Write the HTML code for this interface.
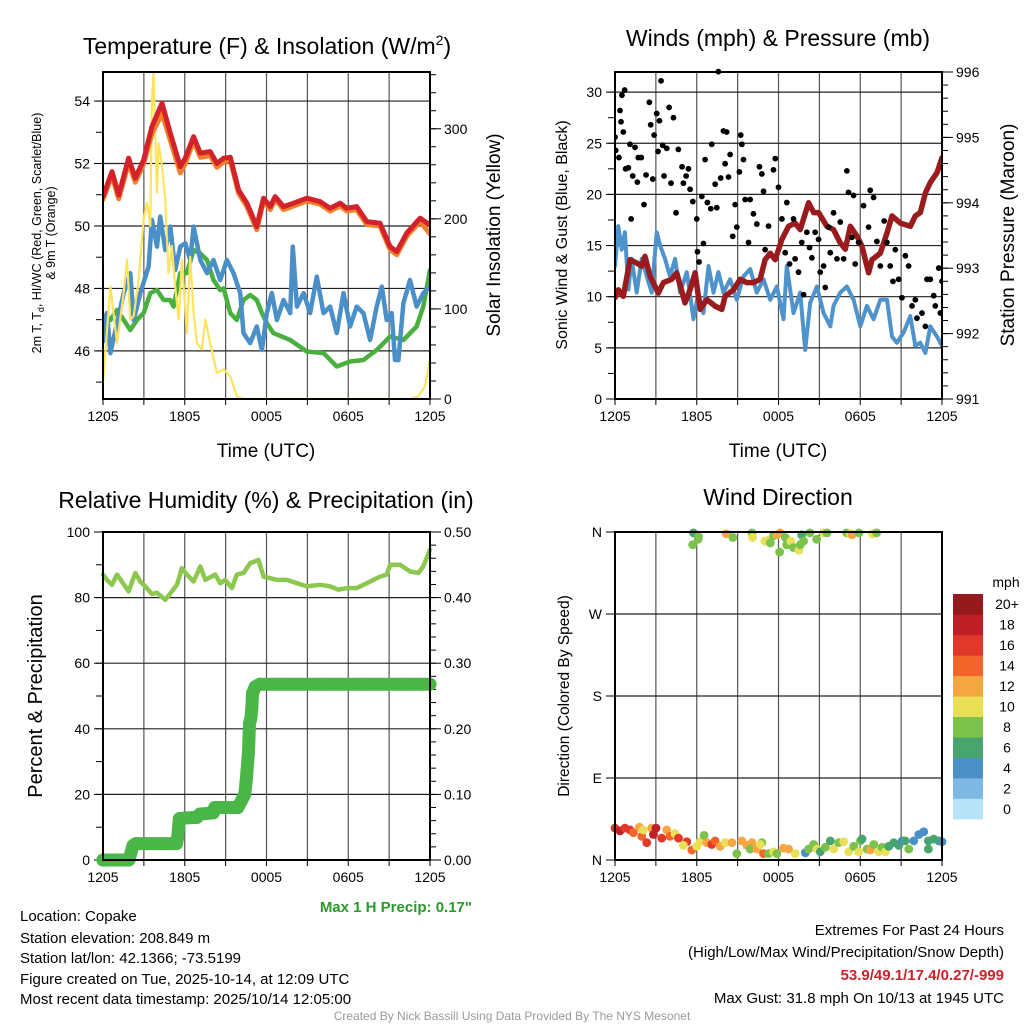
<!DOCTYPE html>
<html><head><meta charset="utf-8">
<style>
html,body{margin:0;padding:0;background:#fff;}
svg{display:block;font-family:"Liberation Sans",Arial,sans-serif;}
</style></head>
<body>
<svg id="chart" width="1024" height="1024" viewBox="0 0 1024 1024" xmlns="http://www.w3.org/2000/svg">
<rect width="1024" height="1024" fill="#fff"/>
<text x="267" y="54" font-size="23" text-anchor="middle">Temperature (F) &amp; Insolation (W/m<tspan font-size="14" dy="-9">2</tspan><tspan dy="9">)</tspan></text>
<text x="778" y="46" font-size="23" text-anchor="middle">Winds (mph) &amp; Pressure (mb)</text>
<text x="266" y="508" font-size="23" text-anchor="middle">Relative Humidity (%) &amp; Precipitation (in)</text>
<text x="778" y="505" font-size="23" text-anchor="middle">Wind Direction</text>
<text x="266" y="457" font-size="19" text-anchor="middle">Time (UTC)</text>
<text x="778" y="457" font-size="19" text-anchor="middle">Time (UTC)</text>
<text transform="translate(41,233) rotate(-90)" font-size="12.5" text-anchor="middle">2m T, T<tspan font-size="9" dy="3">d</tspan><tspan dy="-3">, HI/WC (Red, Green, Scarlet/Blue)</tspan></text>
<text transform="translate(55,233) rotate(-90)" font-size="12.5" text-anchor="middle">&amp; 9m T (Orange)</text>
<text transform="translate(500,235) rotate(-90)" font-size="19" text-anchor="middle">Solar Insolation (Yellow)</text>
<text transform="translate(567,235) rotate(-90)" font-size="16" text-anchor="middle">Sonic Wind &amp; Gust (Blue, Black)</text>
<text transform="translate(1014,235) rotate(-90)" font-size="19" text-anchor="middle">Station Pressure (Maroon)</text>
<text transform="translate(42,696) rotate(-90)" font-size="20" text-anchor="middle">Percent &amp; Precipitation</text>
<text transform="translate(569,696) rotate(-90)" font-size="15.5" text-anchor="middle">Direction (Colored By Speed)</text>
<text x="472" y="912" font-size="15" font-weight="bold" fill="#2a9a2a" text-anchor="end">Max 1 H Precip: 0.17"</text>
<g font-size="15">
<text x="20" y="921">Location: Copake</text>
<text x="20" y="943">Station elevation: 208.849 m</text>
<text x="20" y="963">Station lat/lon: 42.1366; -73.5199</text>
<text x="20" y="984">Figure created on Tue, 2025-10-14, at 12:09 UTC</text>
<text x="20" y="1004">Most recent data timestamp: 2025/10/14 12:05:00</text>
</g>
<g font-size="15" text-anchor="end">
<text x="1004" y="935">Extremes For Past 24 Hours</text>
<text x="1004" y="957">(High/Low/Max Wind/Precipitation/Snow Depth)</text>
<text x="1004" y="980" fill="#d0202a" font-weight="bold">53.9/49.1/17.4/0.27/-999</text>
<text x="1004" y="1003">Max Gust: 31.8 mph On 10/13 at 1945 UTC</text>
</g>
<text x="512" y="1020" font-size="12" fill="#999" text-anchor="middle">Created By Nick Bassill Using Data Provided By The NYS Mesonet</text>
<g id="layer"></g>
</svg>
<script>
const xTickLabels = ['1205','1805','0005','0605','1205'];
const xTickHours = [0,6,12,18,24];
const tempHours = [0,0.66,1.15,1.88,2.37,2.98,3.59,4.33,4.94,5.67,6.04,6.65,7.14,7.87,8.36,8.85,9.34,9.95,10.56,11.29,11.78,12.27,12.64,13.25,13.98,14.96,15.93,16.67,17.4,17.89,18.62,19.36,20.33,21.07,21.56,22.29,23.27,24];
const tempRed = [50.94,51.74,50.99,52.17,51.53,52.11,53.18,53.93,52.97,51.9,52.17,52.86,52.33,52.38,52.0,52.17,52.2,51.15,50.73,49.98,50.89,50.62,50.94,50.62,50.73,50.89,50.78,50.57,50.73,50.57,50.62,50.14,50.09,49.34,49.18,49.77,50.25,50.03];
const tempOrange = [50.85,51.62,50.87,52.02,51.4,51.98,52.95,53.6,52.75,51.7,52.0,52.72,52.2,52.25,51.88,52.05,52.1,51.05,50.62,49.88,50.8,50.52,50.85,50.52,50.64,50.8,50.7,50.48,50.64,50.48,50.52,50.05,50.0,49.24,49.08,49.67,50.15,49.75];
const hiHours = [0,0.29,0.54,1.03,1.52,2.0,2.25,2.74,3.35,3.59,3.96,4.2,4.57,4.94,5.3,5.67,6.04,6.4,6.65,7.14,7.63,8.11,8.6,9.09,9.58,10.07,10.31,10.8,11.29,11.66,12.02,12.39,12.76,13.25,13.74,13.93,14.23,14.72,15.2,15.69,16.18,16.67,17.16,17.65,18.13,18.62,19.11,19.6,20.09,20.46,20.82,21.19,21.43,21.68,22.05,22.53,23.02,23.51,24];
const hiBlue = [46.3,47.21,45.93,46.89,47.85,48.49,46.99,47.85,48.7,50.19,49.34,50.3,49.23,49.98,48.59,49.34,49.45,48.91,49.98,48.91,48.49,48.91,48.27,48.91,48.49,47.85,46.57,46.25,46.78,46.03,47.21,47.85,46.99,47.63,47.21,49.34,47.42,47.85,47.21,48.38,47.21,47.42,46.57,47.85,46.78,47.42,47.21,46.35,47.42,48.06,46.99,47.21,45.71,45.71,47.53,48.27,47.42,47.85,48.06];
const tdHours = [0,0.54,1.03,1.52,2.0,2.49,2.98,3.47,3.96,4.45,4.94,5.18,5.67,6.16,6.65,7.14,7.63,8.11,8.6,8.85,9.34,9.82,10.31,10.8,11.29,11.66,12.02,12.51,13.74,14.96,16.18,17.16,18.13,19.11,20.09,21.07,22.05,23.02,23.51,24];
const tdGreen = [47.15,46.99,47.31,46.99,46.67,46.99,47.21,47.85,47.95,47.63,47.63,47.42,48.49,48.49,49.23,49.12,48.91,48.27,47.95,48.0,47.21,46.99,47.63,47.79,47.63,47.21,46.89,46.57,46.35,45.98,45.93,45.5,45.66,45.71,46.03,46.46,46.35,46.78,47.42,48.59];
const solHours = [0,0.54,1.03,1.52,1.76,2.0,2.25,2.62,2.98,3.23,3.47,3.59,3.71,3.96,4.08,4.33,4.57,4.81,5.06,5.3,5.55,5.79,6.16,6.4,6.65,6.89,7.26,7.51,7.87,8.36,8.85,9.34,9.82,10.31,22.53,23.14,23.63,24];
const solar = [18,125,62,118,155,88,92,133,199,218,192,329,363,229,284,259,221,140,170,125,88,155,73,158,96,62,55,88,62,29,33,25,3,0,0,3,14,44];
const windHours = [0,0.24,0.49,0.73,0.98,1.22,1.59,1.96,2.33,2.69,3.06,3.31,3.67,4.04,4.41,4.78,5.27,5.76,6.12,6.49,6.86,7.23,7.59,7.96,8.45,8.94,9.43,9.92,10.41,10.9,11.39,11.88,12.37,12.61,13.1,13.59,13.96,14.33,14.82,15.31,15.8,16.04,16.53,17.02,17.51,18.0,18.49,18.98,19.47,19.96,20.33,20.69,21.18,21.67,22.04,22.41,22.78,23.14,23.63,24];
const windSpeed = [13.0,16.9,14.6,16.3,10.7,13.7,10.4,13.7,12.0,10.4,16.3,15.0,13.7,12.0,13.7,10.4,12.4,7.8,10.4,8.4,13.0,10.4,12.4,10.4,11.7,9.7,12.0,12.7,10.4,11.7,9.7,11.0,7.8,13.0,8.4,10.4,4.8,9.4,11.0,8.4,7.1,9.1,10.4,11.0,9.7,7.1,9.1,7.8,9.7,9.7,6.1,5.5,6.5,8.1,5.2,5.5,4.5,7.1,6.1,5.2];
const presHours = [0,0.24,0.61,1.1,1.59,1.96,2.2,2.57,3.18,3.55,4.16,4.53,5.14,5.51,5.88,6.25,6.74,7.35,7.84,8.08,8.7,9.18,9.67,10.16,10.65,11.02,11.39,11.76,12.25,12.74,13.22,13.59,14.21,14.58,14.94,15.55,16.04,16.53,16.9,17.27,17.76,18.12,18.61,18.86,19.47,19.96,20.33,20.94,21.68,22.04,22.41,22.78,23.14,23.63,24];
const pressure = [992.55,992.67,992.57,993.13,993.08,993.03,993.18,992.88,992.62,992.78,992.83,992.93,992.47,992.67,992.93,992.37,992.52,992.42,992.37,992.57,992.67,992.83,992.78,992.78,992.83,993.13,993.23,993.13,993.44,993.64,993.69,993.59,994.0,993.85,993.85,993.64,993.59,993.39,993.29,993.64,993.49,993.34,992.93,993.13,993.23,993.54,993.8,993.69,993.64,993.8,993.85,994.15,994.31,994.46,994.69];
const gustHours = [0,0.05,0.29,0.37,0.44,0.51,0.61,0.71,0.78,0.98,1.1,1.18,1.3,1.47,1.64,1.71,1.93,2.13,2.28,2.52,2.62,2.77,2.87,3.06,3.16,3.26,3.38,3.5,3.6,3.8,3.97,4.11,4.29,4.48,4.65,4.92,5.02,5.22,5.39,5.51,5.71,6.0,6.05,6.17,6.37,6.49,6.61,6.78,7.03,7.1,7.35,7.47,7.59,7.76,7.96,8.08,8.2,8.33,8.45,8.64,8.82,8.94,9.13,9.23,9.31,9.43,9.55,9.8,9.92,10.16,10.41,10.6,10.78,10.9,11.02,11.27,11.63,11.76,12.0,12.25,12.49,12.61,12.81,13.1,13.22,13.47,13.71,13.84,14.08,14.28,14.45,14.69,14.94,15.06,15.31,15.43,15.67,15.8,16.04,16.29,16.53,16.78,17.02,17.14,17.39,17.51,17.63,17.88,18.24,18.61,18.73,18.98,19.22,19.47,19.76,19.96,20.2,20.4,20.57,20.82,21.06,21.31,21.55,21.8,22.04,22.16,22.53,22.78,22.9,23.14,23.39,23.51,23.76,24.0,23.88];
const gustSpeed = [25.6,24.3,23.6,28.2,27.1,29.7,26.1,30.2,22.5,22.6,24.9,17.6,21.8,24.6,21.2,23.6,23.6,19.0,21.9,29.0,26.8,21.5,25.8,27.9,24.2,27.2,31.1,24.8,21.8,24.5,28.5,21.1,27.5,18.2,24.4,22.7,21.1,21.8,22.5,20.5,19.3,17.6,14.4,13.4,19.8,15.2,23.4,19.2,18.6,24.9,21.0,18.7,32.0,21.6,26.2,23.0,26.1,21.7,23.9,15.9,19.0,16.8,22.2,25.8,24.9,23.4,19.5,15.3,19.5,18.1,17.1,22.7,22.0,20.3,14.6,16.9,22.4,23.5,20.7,17.6,14.3,19.2,13.2,17.6,13.7,12.4,15.3,10.2,16.3,14.8,13.8,16.3,15.6,12.4,13.0,10.9,16.8,14.3,18.2,13.7,17.3,13.7,22.3,20.2,15.8,19.9,13.2,15.3,18.9,16.8,20.4,19.7,15.4,13.0,17.4,15.3,13.0,11.5,14.6,11.7,9.9,14.0,13.0,9.1,9.7,7.9,8.4,7.1,11.7,11.7,10.1,9.1,12.8,11.5,8.4];
const rhHours = [0,0.29,0.66,1.03,1.39,1.88,2.37,2.74,3.1,3.59,3.96,4.57,5.06,5.43,5.79,6.16,6.65,7.14,7.51,8.24,8.6,8.97,9.46,9.82,10.31,10.8,11.41,11.78,12.27,12.76,13.49,14.23,14.96,15.93,16.67,17.28,17.89,18.62,19.36,20.33,20.82,21.07,21.8,22.53,23.14,23.51,24];
const rh = [87.0,85.4,83.9,87.0,84.9,81.9,87.5,84.9,83.4,81.1,81.5,79.3,81.9,83.9,89.0,87.0,84.9,89.5,85.4,87.0,84.4,85.4,82.9,87.0,87.5,90.5,91.5,86.4,85.9,85.4,85.4,84.4,83.4,83.9,83.4,82.4,82.9,82.9,84.4,86.4,87.0,90.0,90.0,88.0,87.5,89.5,94.6];
const precipHours = [0,0.5,1.0,1.5,1.9,2.2,2.4,3.0,4.0,5.0,5.4,5.5,5.6,6.0,6.9,7.1,8.1,8.2,9.0,9.9,10.2,10.4,10.5,10.56,10.68,10.75,10.85,10.92,10.97,11.17,11.5,13,16,19,22,24];
const precip = [0,0,0,0,0,0.022,0.025,0.025,0.025,0.025,0.025,0.037,0.063,0.064,0.065,0.07,0.072,0.08,0.08,0.08,0.092,0.1,0.119,0.134,0.165,0.208,0.216,0.231,0.254,0.264,0.268,0.268,0.268,0.268,0.268,0.268];
const dirHours = [0,0.37,0.73,1.1,1.35,1.79,1.96,2.08,2.33,2.7,3.01,2.82,3.43,3.8,4.04,4.41,4.66,5.27,5.02,5.64,6.0,6.25,6.54,6.74,7.1,7.35,7.72,8.09,8.58,8.94,9.31,9.68,10.05,9.92,10.41,10.78,10.66,10.9,11.27,11.64,11.88,12.37,12.74,13.23,13.97,14.21,14.58,14.82,15.07,15.44,15.8,16.05,16.42,16.78,17.15,17.52,17.89,18.01,18.13,18.5,18.74,18.99,19.36,19.6,19.85,20.09,20.46,20.83,21.07,21.3,21.56,21.93,22.3,22.66,23.0,23.4,23.77,24,23.0,
 5.76,6.13,5.7,6.1,8.16,8.65,10.05,10.1,11.0,11.27,11.4,11.64,11.88,12.13,12.08,12.5,12.6,12.9,13.1,13.5,13.6,13.7,13.84,14.3,14.8,15.3,15.56,17.0,17.27,17.4,17.9,18.9,19.2];
const dirDeg = [35,32,35,33,30,36,26,33,19,35,35,28,24,33,26,29,24,20,16,11,15,20,27,19,17,21,15,19,19,7,21,16,19,12,12,19,17,7,7,9,7,13,12,7,8,12,17,12,9,14,21,12,19,20,9,15,9,21,23,12,11,17,9,14,9,15,19,16,21,21,12,21,28,31,21,23,21,20,12,
 359,355,346,352,358,354,359,354,350,351,348,356,357,359,338,354,346,350,343,340,346,357,350,359,352,359,359,359,358,357,359,358,359];
const dirSpeed = [15,17,16,15,13,12,13,10,15,12,18,17,16,12,14,10,15,15,10,13,10,10,8,12,15,13,12,10,12,8,12,12,12,8,12,8,10,13,8,10,7,12,12,10,4,7,8,10,6,8,6,10,8,10,10,8,10,8,6,8,12,7,10,8,10,6,6,6,4,6,8,4,4,4,6,6,6,4,6,
 6,8,8,8,12,8,8,10,10,10,8,8,12,12,8,8,8,10,8,10,8,6,8,8,8,10,8,8,10,12,8,10,8];
const speedBinLabels = ['0','2','4','6','8','10','12','14','16','18','20+'];
const speedBinColors = ['#b8e3f8','#7db9e3','#4a8fc6','#48a56e','#7cc24b','#e9e058','#f7a644','#f2642a','#e0382b','#bf1f27','#951a1e'];

const NS='http://www.w3.org/2000/svg';
const layer=document.getElementById('layer');
function mk(tag,attrs,parent){const e=document.createElementNS(NS,tag);for(const k in attrs)e.setAttribute(k,attrs[k]);(parent||layer).appendChild(e);return e;}
function lin(d0,d1,r0,r1){return v=>r0+(v-d0)*(r1-r0)/(d1-d0);}

function panel(name,x0,x1,y0,y1,cfg){
  const g=mk('g',{});
  
  
  const xs=lin(0,24,x0,x1);
  for(let h=3;h<24;h+=3){mk('line',{x1:xs(h),x2:xs(h),y1:y0,y2:y1,stroke:'#555','stroke-width':1.2},g);}
  cfg.hgrid.forEach(y=>{mk('line',{x1:x0,x2:x1,y1:y,y2:y,stroke:'#222','stroke-width':1.2},g);});
  for(let h=0;h<=24;h+=3){mk('line',{x1:xs(h),x2:xs(h),y1:y1,y2:y1+6,stroke:'#000','stroke-width':1},g);}
  xTickHours.forEach((h,i)=>{const t=mk('text',{x:xs(h),y:y1+22,'font-size':14,'text-anchor':'middle'},g);t.textContent=xTickLabels[i];
    
    });
  cfg.lminor.forEach(y=>mk('line',{x1:x0-7,x2:x0,y1:y,y2:y,stroke:'#000','stroke-width':1},g));
  cfg.lmajor.forEach((y,i)=>{mk('line',{x1:x0-9,x2:x0,y1:y,y2:y,stroke:'#000','stroke-width':1},g);
    const t=mk('text',{x:x0-13,y:y+5,'font-size':14,'text-anchor':'end'},g);t.textContent=cfg.llabels[i];
    
    });
  if(cfg.rmajor){
    cfg.rminor.forEach(y=>mk('line',{x1:x1,x2:x1+6,y1:y,y2:y,stroke:'#000','stroke-width':1},g));
    cfg.rmajor.forEach((y,i)=>{mk('line',{x1:x1,x2:x1+11,y1:y,y2:y,stroke:'#000','stroke-width':1},g);
      const t=mk('text',{x:x1+14,y:y+5,'font-size':14,'text-anchor':'start'},g);t.textContent=cfg.rlabels[i];
      
      });
  }
  return {g,xs};
}
function frame(g,x0,x1,y0,y1){
  mk('rect',{x:x0,y:y0,width:x1-x0,height:y1-y0,fill:'none',stroke:'#000','stroke-width':2},g);
}
function range(a,b,s){const r=[];for(let v=a;v<=b+1e-9;v+=s)r.push(+v.toFixed(6));return r;}
function poly(g,hs,vs,xs,ys,color,w,name){
  const p=mk('polyline',{points:hs.map((h,i)=>xs(h).toFixed(1)+','+ys(vs[i]).toFixed(1)).join(' '),fill:'none',stroke:color,'stroke-width':w,'stroke-linejoin':'round','stroke-linecap':'round'},g);
  
  
  return p;
}
function clip(id,x0,x1,y0,y1){const c=mk('clipPath',{id:id});mk('rect',{x:x0,y:y0,width:x1-x0,height:y1-y0},c);}

(function(){
  const x0=103,x1=430,y0=72,y1=399;
  const yl=lin(44.46,54.93,y1,y0), yr=lin(0,363,y1,y0);
  const P=panel('temperature-panel',x0,x1,y0,y1,{
    hgrid:[46,48,50,52,54].map(yl),
    lmajor:[46,48,50,52,54].map(yl), llabels:['46','48','50','52','54'],
    lminor:range(45,54,1).map(yl),
    rmajor:[0,100,200,300].map(yr), rlabels:['0','100','200','300'],
    rminor:range(0,360,20).map(yr)});
  clip('c1',x0,x1,y0,y1);
  const d=mk('g',{'clip-path':'url(#c1)'},P.g);
  poly(d,tdHours,tdGreen,P.xs,yl,'#49b040',4.5,'dewpoint-line');
  poly(d,hiHours,hiBlue,P.xs,yl,'#4a8fc8',4.5,'heat-index-wind-chill-line');
  poly(d,solHours,solar,P.xs,yr,'#fde35e',2.2,'solar-insolation-line');
  poly(d,tempHours,tempOrange,P.xs,yl,'#f47f2a',5,'temp-9m-line');
  poly(d,tempHours,tempRed,P.xs,yl,'#d2232a',5,'temp-2m-line');
  frame(P.g,x0,x1,y0,y1);
})();

(function(){
  const x0=615,x1=942,y0=72,y1=399;
  const yl=lin(0,32,y1,y1-32*10.23), yr=lin(991,996,y1,y0);
  const P=panel('winds-panel',x0,x1,y0,y1,{
    hgrid:[5,10,15,20,25,30].map(yl),
    lmajor:[0,5,10,15,20,25,30].map(yl), llabels:['0','5','10','15','20','25','30'],
    lminor:range(0,30,2.5).map(yl),
    rmajor:[991,992,993,994,995,996].map(yr), rlabels:['991','992','993','994','995','996'],
    rminor:range(991,996,0.2).map(yr)});
  clip('c2',x0,x1,y0-4,y1);
  const d=mk('g',{'clip-path':'url(#c2)'},P.g);
  poly(d,windHours,windSpeed,P.xs,yl,'#4e93cc',4,'sonic-wind-line');
  poly(d,presHours,pressure,P.xs,yr,'#9a1b1e',5.5,'pressure-line');
  gustHours.forEach((h,i)=>{const c=mk('circle',{cx:P.xs(h),cy:yl(gustSpeed[i]),r:2.9,fill:'#000'},d);
    
    });
  frame(P.g,x0,x1,y0,y1);
})();

(function(){
  const x0=103,x1=430,y0=532,y1=860;
  const yl=lin(0,100,y1,y0), yr=lin(0,0.5,y1,y0);
  const P=panel('humidity-panel',x0,x1,y0,y1,{
    hgrid:[20,40,60,80].map(yl),
    lmajor:[0,20,40,60,80,100].map(yl), llabels:['0','20','40','60','80','100'],
    lminor:range(0,100,10).map(yl),
    rmajor:[0,0.1,0.2,0.3,0.4,0.5].map(yr), rlabels:['0.00','0.10','0.20','0.30','0.40','0.50'],
    rminor:range(0,0.5,0.02).map(yr)});
  poly(P.g,rhHours,rh,P.xs,yl,'#8cc84f',4.5,'relative-humidity-line');
  poly(P.g,precipHours,precip,P.xs,yr,'#4ab648',13,'precip-line');
  precipHours.forEach((h,i)=>{const c=mk('circle',{cx:P.xs(h),cy:yr(precip[i]),r:6.5,fill:'#4ab648'},P.g);
    
    });
  frame(P.g,x0,x1,y0,y1);
})();

(function(){
  const x0=615,x1=942,y0=532,y1=860;
  const yl=lin(0,360,y1,y0);
  const P=panel('wind-direction-panel',x0,x1,y0,y1,{
    hgrid:[90,180,270].map(yl),
    lmajor:[0,90,180,270,360].map(yl), llabels:['N','E','S','W','N'],
    lminor:[]});
  function col(s){let i=Math.min(10,Math.max(0,Math.round(s/2)));return speedBinColors[i];}
  dirHours.forEach((h,i)=>{const c=mk('circle',{cx:P.xs(h),cy:yl(dirDeg[i]),r:4.4,fill:col(dirSpeed[i])},P.g);
    
    });
  frame(P.g,x0,x1,y0,y1);
  const cb=mk('g',{});
  
  
  const t=mk('text',{x:1006,y:587,'font-size':14,'text-anchor':'middle'},cb);t.textContent='mph';
  const bh=(819-594)/11;
  speedBinColors.forEach((c,i)=>{const yy=819-(i+1)*bh;
    const r=mk('rect',{x:953,y:yy,width:30,height:bh+0.3,fill:c},cb);
    
    
    const l=mk('text',{x:1007,y:yy+bh/2+5,'font-size':14,'text-anchor':'middle'},cb);l.textContent=speedBinLabels[i];
    
    });
})();
</script>
</body></html>
